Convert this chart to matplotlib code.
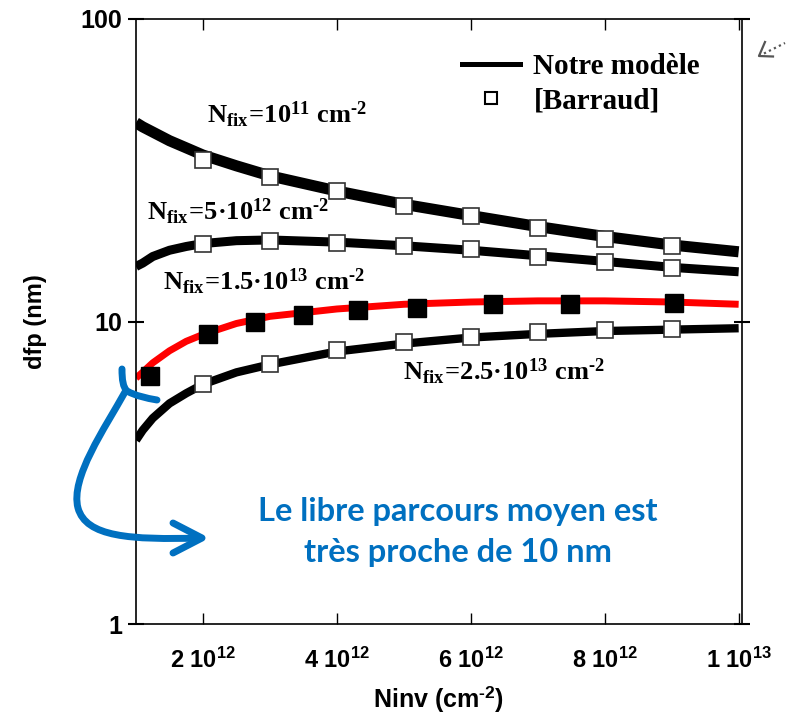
import matplotlib
matplotlib.use("Agg")
import matplotlib.pyplot as plt
from matplotlib.lines import Line2D
from matplotlib.path import Path
from matplotlib.patches import PathPatch

# Données (Ninv en unités de 1e12 cm-2, dfp en nm)
x_model = [1.0, 1.1, 1.25, 1.5, 1.75, 2.0, 2.5, 3.0, 4.0, 5.0, 6.0, 7.0, 8.0, 9.0, 10.0]
model_1e11 = [45.4, 44.0, 42.3, 39.6, 37.5, 35.5, 32.7, 30.3, 27.0, 24.4, 22.4, 20.6, 19.1, 17.9, 17.0]
model_5e12 = [15.2, 15.6, 16.4, 17.2, 17.7, 18.1, 18.5, 18.6, 18.3, 17.8, 17.2, 16.5, 15.8, 15.1, 14.6]
model_15e13 = [6.5, 6.8, 7.3, 8.0, 8.6, 9.06, 9.85, 10.4, 11.0, 11.4, 11.6, 11.7, 11.7, 11.6, 11.4]
model_25e13 = [4.05, 4.37, 4.79, 5.36, 5.79, 6.2, 6.79, 7.21, 7.96, 8.45, 8.85, 9.1, 9.3, 9.4, 9.5]

x_barraud = [2, 3, 4, 5, 6, 7, 8, 9]
barraud_1e11 = [34.3, 30.1, 26.9, 24.1, 22.4, 20.3, 18.8, 17.7]
barraud_5e12 = [18.1, 18.5, 18.2, 17.8, 17.3, 16.4, 15.7, 15.0]
barraud_25e13 = [6.2, 7.21, 8.02, 8.53, 8.92, 9.2, 9.34, 9.41]

x_barraud_15e13 = [1.21, 2.07, 2.78, 3.49, 4.31, 5.19, 6.33, 7.48, 9.04]
barraud_15e13 = [6.6, 9.06, 10.0, 10.5, 10.9, 11.1, 11.4, 11.4, 11.5]

x_ticks = [2, 4, 6, 8, 10]
x_ticklabels = [r"$\mathsf{2\ 10^{12}}$", r"$\mathsf{4\ 10^{12}}$", r"$\mathsf{6\ 10^{12}}$",
                r"$\mathsf{8\ 10^{12}}$", r"$\mathsf{1\ 10^{13}}$"]
y_ticks = [1, 10, 100]
y_ticklabels = ["1", "10", "100"]

plt.rcParams["font.family"] = ["Liberation Sans", "DejaVu Sans"]
plt.rcParams["font.weight"] = "bold"
plt.rcParams["mathtext.fontset"] = "custom"
plt.rcParams["mathtext.rm"] = "Liberation Serif:bold"
plt.rcParams["mathtext.it"] = "Liberation Serif:bold"
plt.rcParams["mathtext.bf"] = "Liberation Serif:bold"
plt.rcParams["mathtext.sf"] = "Liberation Sans:bold"

W, H = 787, 718
fig = plt.figure(figsize=(W / 100, H / 100), dpi=100)
ax = fig.add_axes([136 / W, 1 - 624 / H, (742 - 136) / W, (624 - 19) / H])

lw_model = dict(solid_capstyle="butt", solid_joinstyle="round", zorder=2)
ax.plot(x_model, model_1e11, color="black", lw=8, **lw_model)
ax.plot(x_model, model_5e12, color="black", lw=6.5, **lw_model)
ax.plot(x_model, model_15e13, color="#ff0000", lw=5, **lw_model)
ax.plot(x_model, model_25e13, color="black", lw=6, **lw_model)

open_sq = dict(marker="s", ms=12, mfc="white", mec="#333333", mew=1.2, ls="none", zorder=3)
ax.plot(x_barraud, barraud_1e11, **open_sq)
ax.plot(x_barraud, barraud_5e12, **open_sq)
ax.plot(x_barraud, barraud_25e13, **open_sq)
ax.plot(x_barraud_15e13, barraud_15e13, marker="s", ms=13, mfc="black", mec="black",
        ls="none", zorder=3)

ax.set_yscale("log")
ax.set_xlim(1, 10.05)
ax.set_ylim(1, 100)
ax.set_xticks(x_ticks)
ax.set_xticklabels(x_ticklabels)
ax.set_yticks(y_ticks)
ax.set_yticklabels(y_ticklabels)
ax.yaxis.set_minor_locator(matplotlib.ticker.NullLocator())
ax.tick_params(axis="x", direction="in", length=8, width=1, top=True, labelsize=17, pad=17)
ax.tick_params(axis="y", direction="inout", length=12, width=1.5, right=True, labelsize=18, pad=4)
for s in ax.spines.values():
    s.set_linewidth(1.2)

ax.set_xlabel("Ninv (cm$^{\\mathsf{\u20102}}$)", fontsize=18, fontweight="bold", labelpad=8)
ax.set_ylabel("dfp (nm)", fontsize=17, fontweight="bold", labelpad=24)

handles = [Line2D([], [], color="black", lw=3.6),
           Line2D([], [], marker="s", ms=9, mfc="white", mec="black", mew=1.5, ls="none")]
leg = ax.legend(handles, ["Notre modèle", "[Barraud]"], loc="upper left",
                bbox_to_anchor=(462 / W, 1 - 53 / H), bbox_transform=fig.transFigure,
                frameon=False, borderpad=0, borderaxespad=0, handlelength=2.0,
                handletextpad=0.45, labelspacing=0.25,
                prop={"family": "Liberation Serif", "weight": "bold", "size": 21})

# Couche d'annotations en pixels
ov = fig.add_axes([0, 0, 1, 1], zorder=5)
ov.set_xlim(0, W)
ov.set_ylim(H, 0)
ov.axis("off")

lab = dict(fontsize=19, ha="left", va="baseline")
ov.text(207, 123, "$\\mathrm{N_{fix}\\!=\\!10^{11}\\ cm^{\u20102}}$", **lab)
ov.text(147, 220, "$\\mathrm{N_{fix}\\!=\\!5·10^{12}\\ cm^{\u20102}}$", **lab)
ov.text(163, 290, "$\\mathrm{N_{fix}\\!=\\!1.5·10^{13}\\ cm^{\u20102}}$", **lab)
ov.text(403, 380, "$\\mathrm{N_{fix}\\!=\\!2.5·10^{13}\\ cm^{\u20102}}$", **lab)

blue = "#0070C0"
ov.text(458, 532, "Le libre parcours moyen est\ntrès proche de 10 nm", color=blue,
        family=["Lato", "DejaVu Sans"], fontweight="bold", fontsize=23.5,
        ha="center", va="center", linespacing=1.5)

arm = Path([(122, 369), (122, 380), (123, 387), (127, 391),
            (136, 396), (146, 398), (157, 400)],
           [Path.MOVETO, Path.CURVE4, Path.CURVE4, Path.CURVE4,
            Path.CURVE4, Path.CURVE4, Path.CURVE4])
stem = Path([(125, 392), (105, 428), (70, 478), (78, 508),
             (86, 537), (130, 540), (201, 538)],
            [Path.MOVETO, Path.CURVE4, Path.CURVE4, Path.CURVE4,
             Path.CURVE4, Path.CURVE4, Path.CURVE4])
head = Path([(173, 523), (202, 538), (173, 553)], [Path.MOVETO, Path.LINETO, Path.LINETO])
for p in (arm, stem, head):
    ov.add_patch(PathPatch(p, fill=False, edgecolor=blue, lw=5, capstyle="round",
                           joinstyle="round"))

ov.plot([759, 785], [56, 43], color="#555555", lw=1.6, ls=(0, (1, 1.5)))
ov.plot([765, 759, 773], [42, 56, 56.5], color="#555555", lw=1.6)

fig.savefig("out.png", dpi=100)
